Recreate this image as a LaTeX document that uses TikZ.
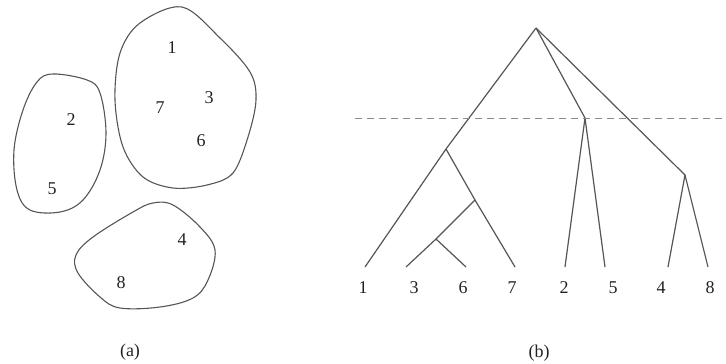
\documentclass[tikz,border=0pt]{standalone}
\usepackage{fontspec}
\setmainfont{Liberation Serif}
\usepackage{tikz}
\usetikzlibrary{positioning,calc}
\definecolor{Ink}{HTML}{222222}
\definecolor{Edge}{HTML}{555555}
\definecolor{Cut}{HTML}{8A8A8A}
\tikzset{
  lbl/.style={inner sep=0pt,text=Ink,font=\fontsize{18}{20}\selectfont},
  blob/.style={draw=Edge,line width=1.1pt},
  branch/.style={draw=Edge,line width=1.2pt},
  cutline/.style={draw=Cut,line width=1pt,dash pattern=on 7pt off 5pt}
}
\begin{document}
\begin{tikzpicture}[x=1pt,y=-1pt]
\useasboundingbox (0,0) rectangle (726,364);
% (a) clusters
\draw[blob] plot[smooth cycle,tension=0.55] coordinates {(182,7) (220,38) (250,72) (256,100) (248,137) (233,173) (207,185) (173,188) (143,177) (123,147) (115,100) (120,53) (140,23)};
\draw[blob] plot[smooth cycle,tension=0.6] coordinates {(53,74) (87,80) (100,93) (106,133) (100,170) (83,200) (60,212) (30,210) (17,190) (14,150) (23,110) (37,82)};
\draw[blob] plot[smooth cycle,tension=0.6] coordinates {(153,203) (173,205) (200,227) (215,250) (208,280) (193,298) (160,307) (120,308) (100,297) (78,273) (76,255) (93,237) (133,212)};
\node[lbl] (a1) at (172,48) {1};
\node[lbl] (a7) at (160,108) {7};
\node[lbl] (a3) at (209,98) {3};
\node[lbl] (a6) at (201,141) {6};
\node[lbl] (a2) at (71,120) {2};
\node[lbl] (a5) at (52,189) {5};
\node[lbl] (a4) at (182,240) {4};
\node[lbl] (a8) at (121,283) {8};
\node[lbl] (capa) at (130,352) {(a)};
% (b) dendrogram
\coordinate (root) at (536,28);
\coordinate (nA) at (446,149);
\coordinate (nB) at (475,200);
\coordinate (nC) at (436,239);
\coordinate (nD) at (585,118);
\coordinate (nE) at (685,175);
\foreach \k/\x/\lx in {1/365/363,3/406/414,6/466/463,7/515/512,2/565/564,5/605/613,4/668/661,8/708/710}{
  \coordinate (t\k) at (\x,267);
  \node[lbl] (b\k) at (\lx,288) {\k};
}
\draw[branch] (root)--(nA)--(t1);
\draw[branch] (nA)--(nB)--(t7);
\draw[branch] (nB)--(nC)--(t3);
\draw[branch] (nC)--(t6);
\draw[branch] (root)--(nD)--(t2);
\draw[branch] (nD)--(t5);
\draw[branch] (root)--(nE)--(t4);
\draw[branch] (nE)--(t8);
\coordinate (cutL) at (355,118);
\coordinate (cutR) at (726,118);
\draw[cutline] (cutL)--(cutR);
\node[lbl] (capb) at (539,353) {(b)};
\end{tikzpicture}
\end{document}
